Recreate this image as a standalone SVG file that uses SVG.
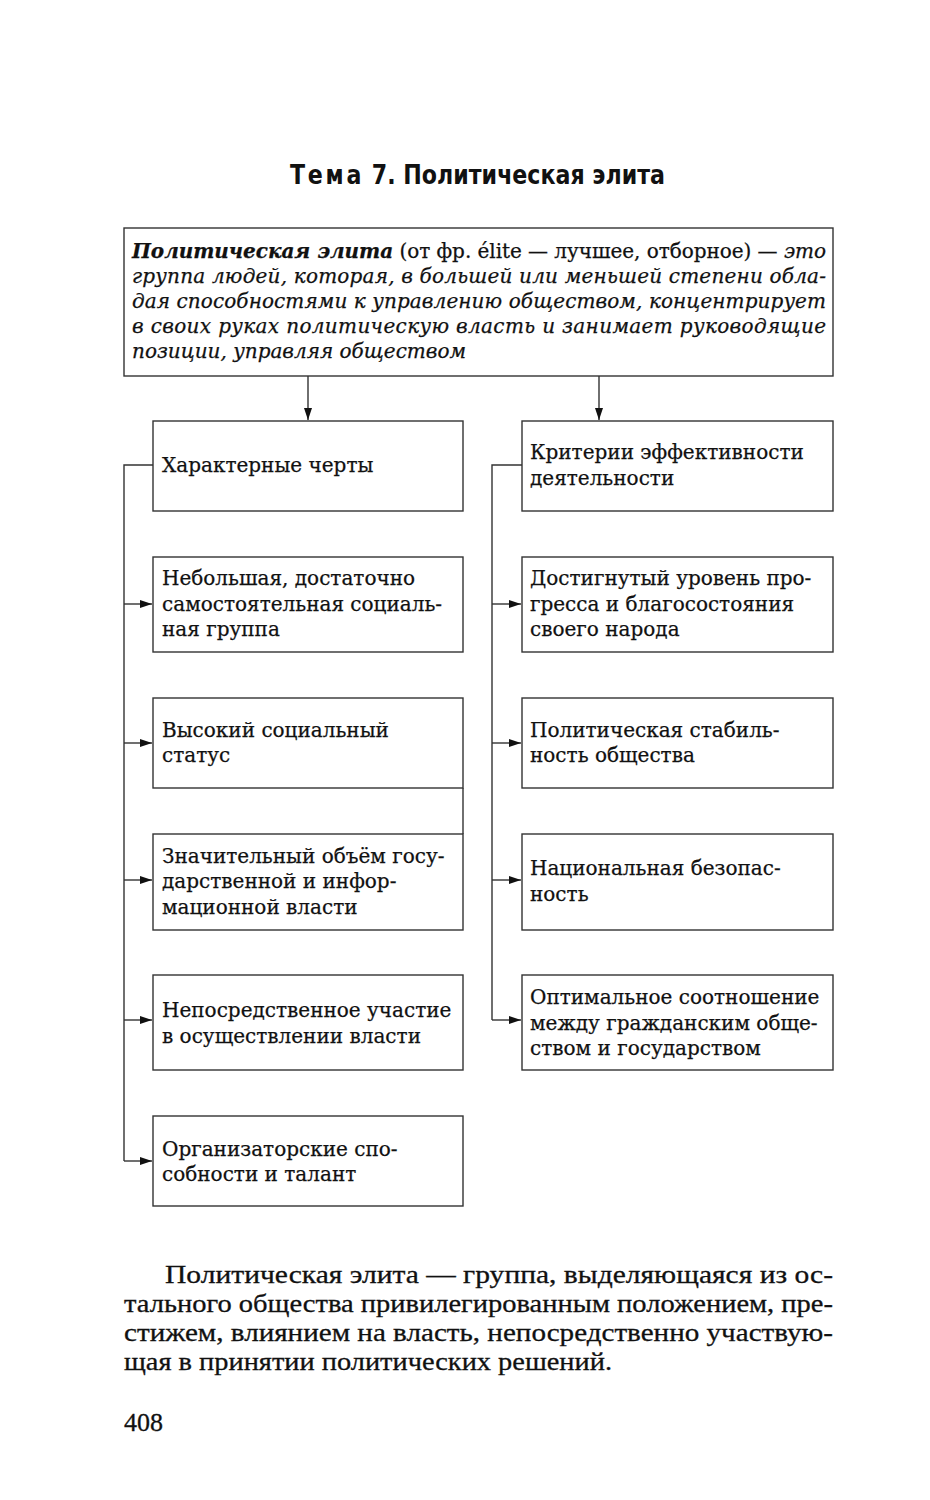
<svg xmlns="http://www.w3.org/2000/svg" width="930" height="1500" viewBox="0 0 930 1500">
<defs>
<marker id="arr" viewBox="0 0 12 8" refX="12" refY="4" markerWidth="12" markerHeight="8" markerUnits="userSpaceOnUse" orient="auto">
<path d="M0,0 L12,4 L0,8 Z" fill="#111"/>
</marker>
<style>
.box{fill:#fff;stroke:#333;stroke-width:1.4}
.t{font-family:"DejaVu Serif","Liberation Serif",serif;font-size:20px;fill:#111;stroke:#111;stroke-width:0.25}
.it{font-style:italic}
.b{font-weight:bold}
.ln{fill:none;stroke:#333;stroke-width:1.4}
.title{font-family:"DejaVu Sans Condensed","Liberation Sans Narrow","Liberation Sans",sans-serif;font-weight:bold;font-size:27px;fill:#111}
.p{font-family:"Liberation Serif",serif;font-size:26px;fill:#111;stroke:#111;stroke-width:0.3}
</style>
</defs>
<rect width="930" height="1500" fill="#fff"/>
<text class="title" x="290" y="184" textLength="375" lengthAdjust="spacingAndGlyphs"><tspan letter-spacing="3">Тема</tspan> 7. Политическая элита</text>

<g id="definition">
<rect class="box" x="124" y="228" width="709" height="148"/>
<text class="t" x="132" y="258" textLength="694" lengthAdjust="spacing"><tspan class="it b">Политическая элита</tspan> (от фр. élite — лучшее, отборное) — <tspan class="it">это</tspan></text>
<text class="t it" x="132" y="283" textLength="694" lengthAdjust="spacing">группа людей, которая, в большей или меньшей степени обла-</text>
<text class="t it" x="132" y="308" textLength="694" lengthAdjust="spacing">дая способностями к управлению обществом, концентрирует</text>
<text class="t it" x="132" y="333" textLength="694" lengthAdjust="spacing">в своих руках политическую власть и занимает руководящие</text>
<text class="t it" x="132" y="358">позиции, управляя обществом</text>
</g>

<g id="connectors">
<line class="ln" x1="308" y1="376" x2="308" y2="420" marker-end="url(#arr)"/>
<line class="ln" x1="599" y1="376" x2="599" y2="420" marker-end="url(#arr)"/>
<polyline class="ln" points="153,465 124,465 124,1161"/>
<line class="ln" x1="124" y1="604" x2="152" y2="604" marker-end="url(#arr)"/>
<line class="ln" x1="124" y1="743" x2="152" y2="743" marker-end="url(#arr)"/>
<line class="ln" x1="124" y1="880" x2="152" y2="880" marker-end="url(#arr)"/>
<line class="ln" x1="124" y1="1020" x2="152" y2="1020" marker-end="url(#arr)"/>
<line class="ln" x1="124" y1="1161" x2="152" y2="1161" marker-end="url(#arr)"/>
<polyline class="ln" points="522,465 492,465 492,1020"/>
<line class="ln" x1="492" y1="604" x2="521" y2="604" marker-end="url(#arr)"/>
<line class="ln" x1="492" y1="743" x2="521" y2="743" marker-end="url(#arr)"/>
<line class="ln" x1="492" y1="880" x2="521" y2="880" marker-end="url(#arr)"/>
<line class="ln" x1="492" y1="1020" x2="521" y2="1020" marker-end="url(#arr)"/>
<line class="ln" x1="463" y1="788" x2="463" y2="834"/>
</g>

<g id="traits">
<rect class="box" x="153" y="421" width="310" height="90"/>
<text class="t" x="162" y="472">Характерные черты</text>
</g>
<g id="trait1">
<rect class="box" x="153" y="557" width="310" height="95"/>
<text class="t" x="162" y="585">Небольшая, достаточно</text>
<text class="t" x="162" y="611">самостоятельная социаль-</text>
<text class="t" x="162" y="636">ная группа</text>
</g>
<g id="trait2">
<rect class="box" x="153" y="698" width="310" height="90"/>
<text class="t" x="162" y="737">Высокий социальный</text>
<text class="t" x="162" y="762">статус</text>
</g>
<g id="trait3">
<rect class="box" x="153" y="834" width="310" height="96"/>
<text class="t" x="162" y="863">Значительный объём госу-</text>
<text class="t" x="162" y="888">дарственной и инфор-</text>
<text class="t" x="162" y="914">мационной власти</text>
</g>
<g id="trait4">
<rect class="box" x="153" y="975" width="310" height="95"/>
<text class="t" x="162" y="1017">Непосредственное участие</text>
<text class="t" x="162" y="1043">в осуществлении власти</text>
</g>
<g id="trait5">
<rect class="box" x="153" y="1116" width="310" height="90"/>
<text class="t" x="162" y="1156">Организаторские спо-</text>
<text class="t" x="162" y="1181">собности и талант</text>
</g>

<g id="criteria">
<rect class="box" x="522" y="421" width="311" height="90"/>
<text class="t" x="530" y="459">Критерии эффективности</text>
<text class="t" x="530" y="485">деятельности</text>
</g>
<g id="crit1">
<rect class="box" x="522" y="557" width="311" height="95"/>
<text class="t" x="530" y="585">Достигнутый уровень про-</text>
<text class="t" x="530" y="611">гресса и благосостояния</text>
<text class="t" x="530" y="636">своего народа</text>
</g>
<g id="crit2">
<rect class="box" x="522" y="698" width="311" height="90"/>
<text class="t" x="530" y="737">Политическая стабиль-</text>
<text class="t" x="530" y="762">ность общества</text>
</g>
<g id="crit3">
<rect class="box" x="522" y="834" width="311" height="96"/>
<text class="t" x="530" y="875">Национальная безопас-</text>
<text class="t" x="530" y="901">ность</text>
</g>
<g id="crit4">
<rect class="box" x="522" y="975" width="311" height="95"/>
<text class="t" x="530" y="1004">Оптимальное соотношение</text>
<text class="t" x="530" y="1030">между гражданским обще-</text>
<text class="t" x="530" y="1055">ством и государством</text>
</g>

<g id="paragraph">
<text class="p" x="165" y="1283" textLength="668" lengthAdjust="spacingAndGlyphs">Политическая элита — группа, выделяющаяся из ос-</text>
<text class="p" x="124" y="1312" textLength="709" lengthAdjust="spacingAndGlyphs">тального общества привилегированным положением, пре-</text>
<text class="p" x="124" y="1341" textLength="709" lengthAdjust="spacingAndGlyphs">стижем, влиянием на власть, непосредственно участвую-</text>
<text class="p" x="124" y="1370" textLength="488" lengthAdjust="spacingAndGlyphs">щая в принятии политических решений.</text>
<text class="p" x="124" y="1431">408</text>
</g>
</svg>
